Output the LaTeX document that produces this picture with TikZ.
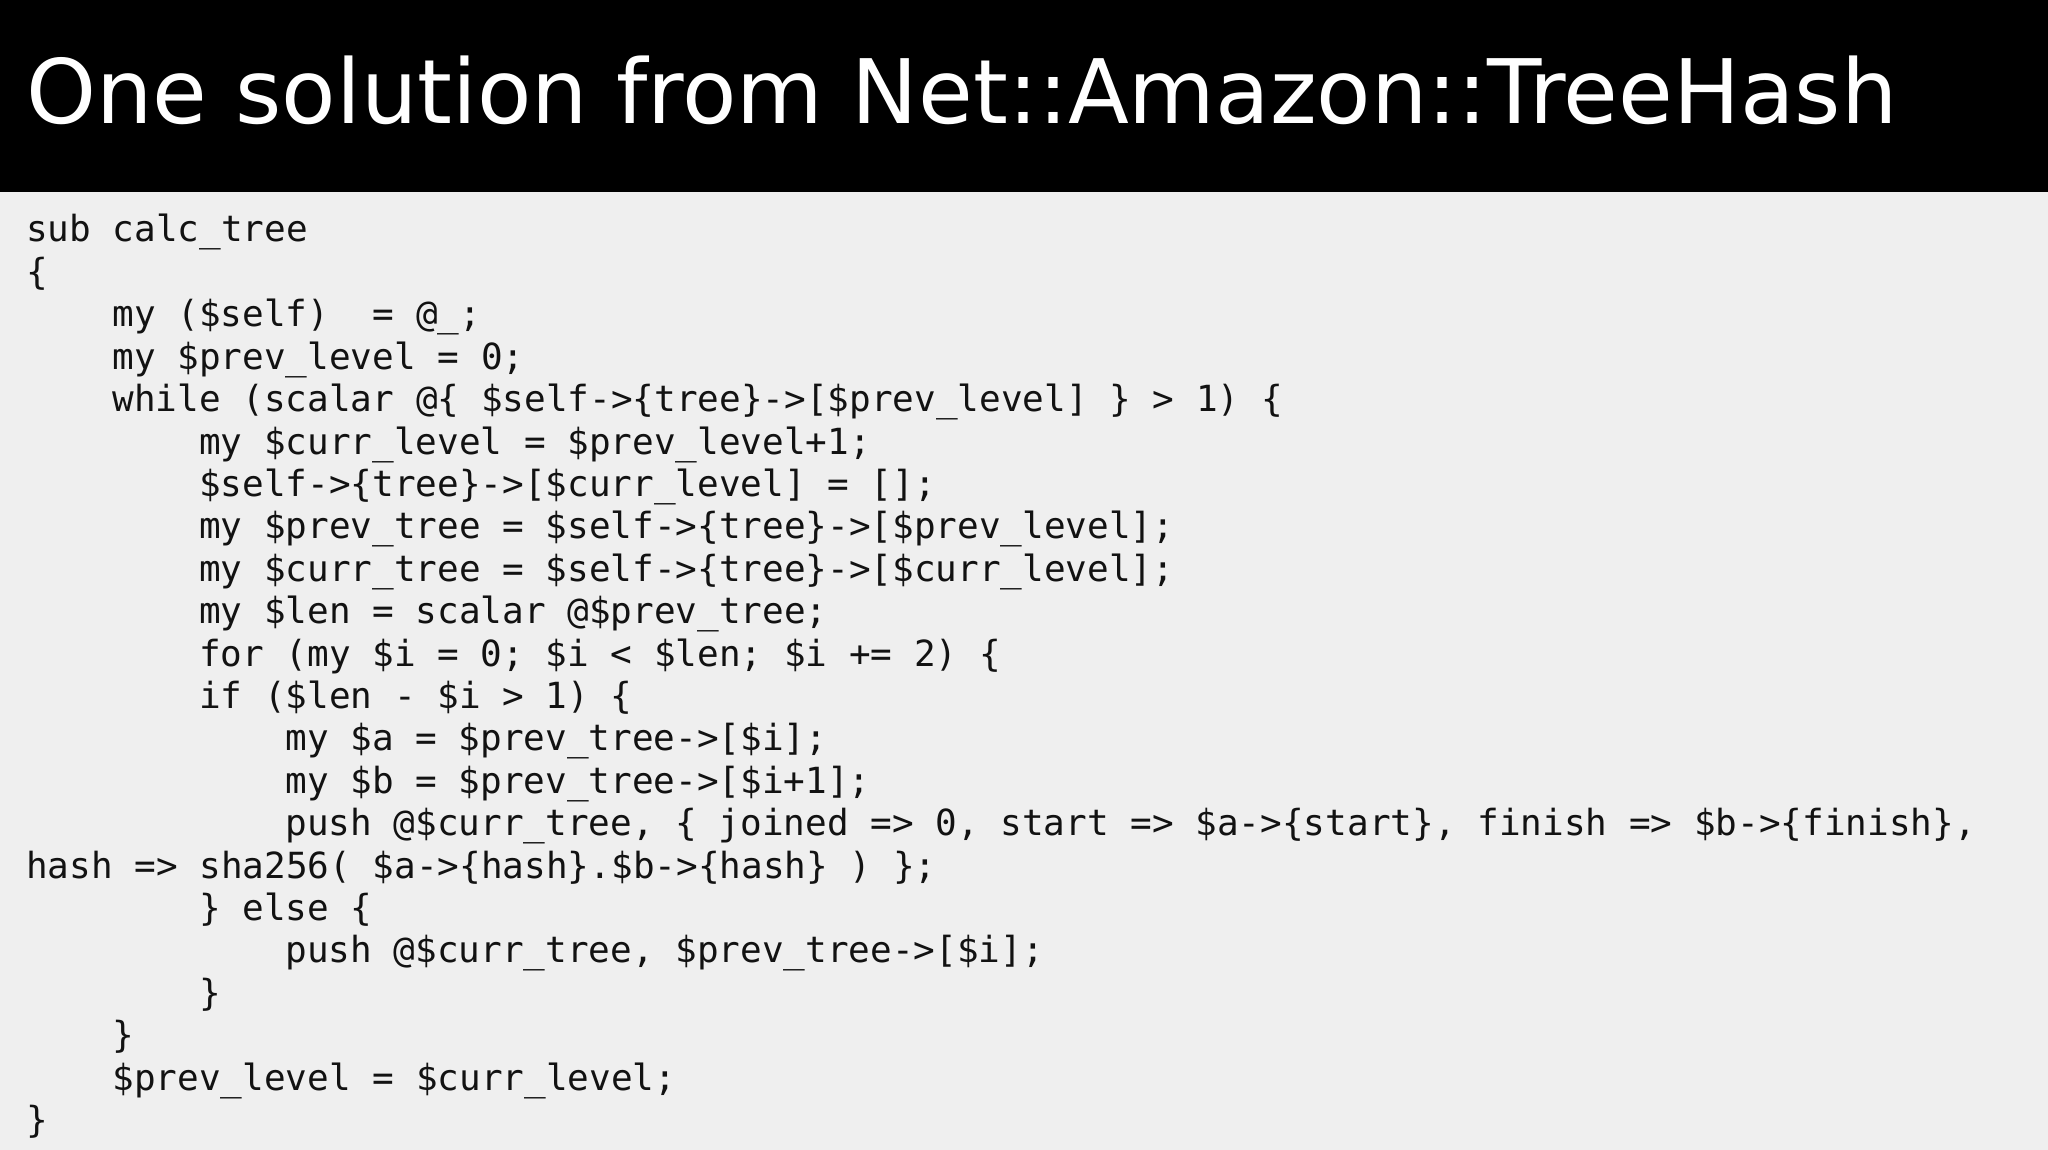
\documentclass[tikz,border=0pt]{standalone}
\usepackage{fontspec}
\setmainfont{DejaVu Sans}
\newfontfamily\codefont{DejaVu Sans Mono}
\definecolor{bg}{HTML}{EFEFEF}
\begin{document}
\begin{tikzpicture}[x=1pt,y=-1pt,
  code/.style={anchor=base west,inner sep=0pt,text=black!93,font=\codefont\fontsize{36}{36}\selectfont}]
\useasboundingbox (0,0) rectangle (2048,1150);
\fill[bg] (0,0) rectangle (2048,1150);
\fill[black] (0,0) rectangle (2048,192);
\node[anchor=base west,inner sep=0pt,text=white,font=\fontsize{89}{89}\selectfont] (title) at (26,124) {One solution from Net::Amazon::TreeHash};
\def\ind{21.6}
\def\lh{42.4}
\foreach \i/\n/\t in {
0/0/{sub calc\_tree},
1/0/{\{},
2/4/{my (\$self)\ \ = @\_;},
3/4/{my \$prev\_level = 0;},
4/4/{while (scalar @\{ \$self->\{tree\}->[\$prev\_level] \} > 1) \{},
5/8/{my \$curr\_level = \$prev\_level+1;},
6/8/{\$self->\{tree\}->[\$curr\_level] = [];},
7/8/{my \$prev\_tree = \$self->\{tree\}->[\$prev\_level];},
8/8/{my \$curr\_tree = \$self->\{tree\}->[\$curr\_level];},
9/8/{my \$len = scalar @\$prev\_tree;},
10/8/{for (my \$i = 0; \$i < \$len; \$i += 2) \{},
11/8/{if (\$len - \$i > 1) \{},
12/12/{my \$a = \$prev\_tree->[\$i];},
13/12/{my \$b = \$prev\_tree->[\$i+1];},
14/12/{push @\$curr\_tree, \{ joined => 0, start => \$a->\{start\}, finish => \$b->\{finish\},},
15/0/{hash => sha256( \$a->\{hash\}.\$b->\{hash\} ) \};},
16/8/{\} else \{},
17/12/{push @\$curr\_tree, \$prev\_tree->[\$i];},
18/8/{\}},
19/4/{\}},
20/4/{\$prev\_level = \$curr\_level;},
21/0/{\}}}
  \node[code] (l\i) at ({26+\n*\ind},{242+\i*\lh}) {\t};
\end{tikzpicture}
\end{document}
